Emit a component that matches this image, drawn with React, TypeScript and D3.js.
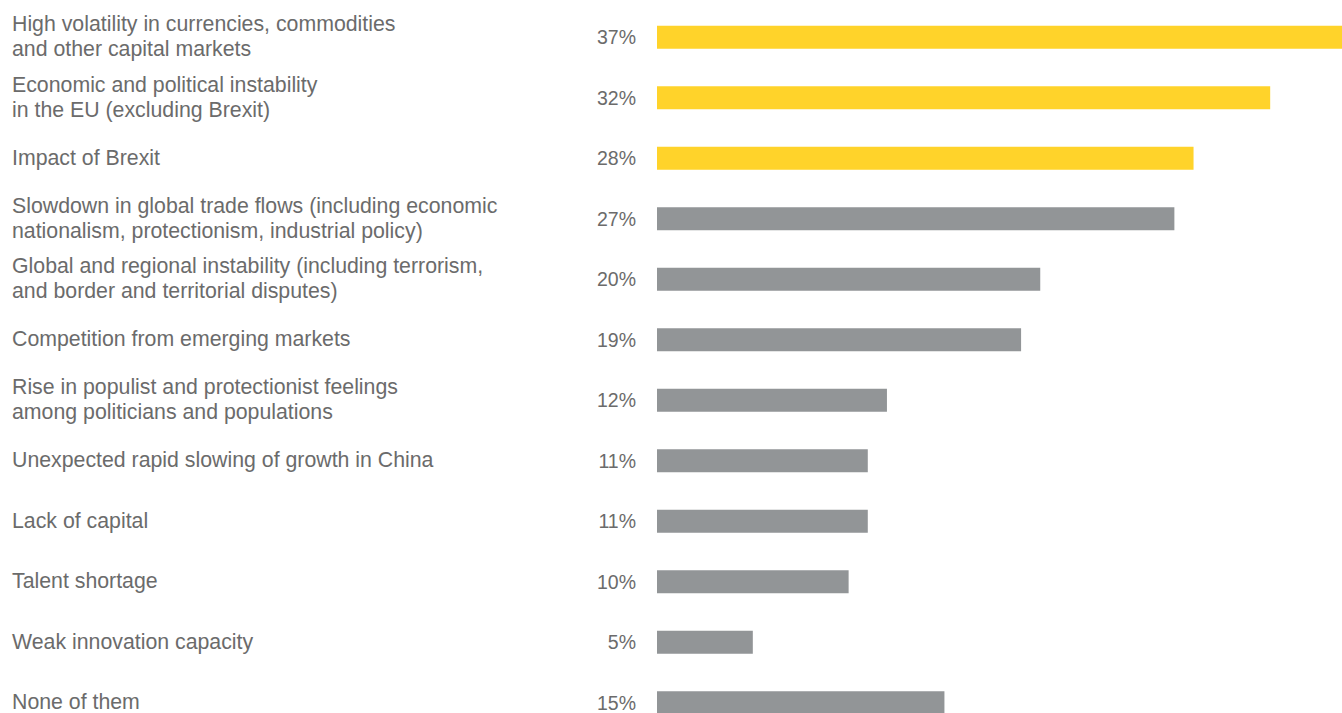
import { useEffect, useRef } from 'react';
import * as d3 from 'd3';

const categories: string[][] = [
  ['High volatility in currencies, commodities', 'and other capital markets'],
  ['Economic and political instability', 'in the EU (excluding Brexit)'],
  ['Impact of Brexit'],
  ['Slowdown in global trade flows (including economic', 'nationalism, protectionism, industrial policy)'],
  ['Global and regional instability (including terrorism,', 'and border and territorial disputes)'],
  ['Competition from emerging markets'],
  ['Rise in populist and protectionist feelings', 'among politicians and populations'],
  ['Unexpected rapid slowing of growth in China'],
  ['Lack of capital'],
  ['Talent shortage'],
  ['Weak innovation capacity'],
  ['None of them'],
];

const values = [37, 32, 28, 27, 20, 19, 12, 11, 11, 10, 5, 15];
const highlighted = [true, true, true, false, false, false, false, false, false, false, false, false];

const W = 1342;
const H = 713;
const YELLOW = '#FFD32A';
const GREY = '#929597';
const TEXT = '#6b6b6b';
const FONT = "'Liberation Sans', Arial, sans-serif";

export default function App() {
  const svgRef = useRef<SVGSVGElement>(null);

  useEffect(() => {
    document.body.style.margin = '0';
    if (!svgRef.current) return;
    const svg = d3.select(svgRef.current);
    svg.selectAll('*').remove();

    const x = d3.scaleLinear().domain([0, 37]).range([657, 1366]);
    const y = d3
      .scaleBand<number>()
      .domain(d3.range(values.length))
      .range([7, 7 + 60.5 * values.length])
      .paddingInner(0.62)
      .paddingOuter(0.31);

    const rows = svg
      .selectAll('g.row')
      .data(values)
      .enter()
      .append('g')
      .attr('class', 'row');

    rows
      .append('rect')
      .attr('x', x(0))
      .attr('y', (_, i) => y(i) ?? 0)
      .attr('width', (d) => x(d) - x(0))
      .attr('height', y.bandwidth())
      .attr('fill', (_, i) => (highlighted[i] ? YELLOW : GREY));

    rows
      .append('text')
      .attr('x', 636)
      .attr('y', (_, i) => (y(i) ?? 0) + y.bandwidth() / 2)
      .attr('dy', '0.35em')
      .attr('text-anchor', 'end')
      .attr('font-family', FONT)
      .attr('font-size', 19.5)
      .attr('fill', TEXT)
      .text((d) => `${d}%`);

    rows.each(function (_, i) {
      const lines = categories[i];
      const cy = (y(i) ?? 0) + y.bandwidth() / 2;
      const t = d3
        .select(this)
        .append('text')
        .attr('font-family', FONT)
        .attr('font-size', 21.3)
        .attr('fill', TEXT);
      lines.forEach((line, j) => {
        const offset = lines.length === 1 ? 0 : (j - 0.5) * 25;
        t.append('tspan')
          .attr('x', 12)
          .attr('y', cy + offset)
          .attr('dy', '0.3em')
          .text(line);
      });
    });
  }, []);

  return (
    <div style={{ width: W, height: H, overflow: 'hidden', background: '#fff' }}>
      <svg ref={svgRef} width={W} height={H} style={{ display: 'block' }} />
    </div>
  );
}
